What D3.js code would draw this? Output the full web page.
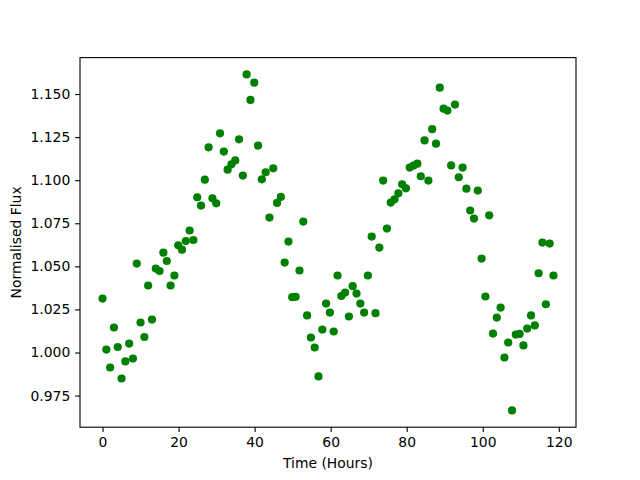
<!DOCTYPE html>
<html>
<head>
<meta charset="utf-8">
<script src="https://cdn.jsdelivr.net/npm/d3@7"></script>
<style>
html, body { margin: 0; padding: 0; background: #fff; }
svg { display: block; }
text { font-family: "DejaVu Sans", sans-serif; }
</style>
</head>
<body>
<svg id="chart" width="640" height="480"></svg>
<script>
const times = [0,1.0,2.0,3.0,4.0,5.0,6.0,7.0,8.0,9.0,10.0,11.0,12.0,13.0,14.0,15.0,16.0,16.9,17.9,18.9,
19.9,20.9,21.9,22.9,23.9,24.9,25.9,26.9,27.9,28.9,29.9,30.9,31.9,32.9,33.9,34.9,35.9,36.9,37.9,38.9,
39.9,40.9,41.9,42.9,43.9,44.9,45.9,46.9,47.9,48.9,49.9,50.8,51.8,52.8,53.8,54.8,55.8,56.8,57.8,58.8,
59.8,60.8,61.8,62.8,63.8,64.8,65.8,66.8,67.8,68.8,69.8,70.8,71.8,72.8,73.8,74.8,75.8,76.8,77.8,78.8,
79.8,80.8,81.8,82.8,83.7,84.7,85.7,86.7,87.7,88.7,89.7,90.7,91.7,92.7,93.7,94.7,95.7,96.7,97.7,98.7,
99.7,100.7,101.7,102.7,103.7,104.7,105.7,106.7,107.7,108.7,109.7,110.7,111.7,112.7,113.7,114.7,115.7,116.6,117.6,118.6];

const flux = [1.0313,1.0017,0.9913,1.0145,1.0032,0.9849,0.9948,1.0052,0.9965,1.0516,
1.0174,1.0090,1.0389,1.0191,1.0487,1.0473,1.0580,1.0531,1.0389,1.0447,
1.0622,1.0597,1.0647,1.0708,1.0653,1.0901,1.0853,1.1003,1.1191,1.0895,
1.0866,1.1272,1.1166,1.1061,1.1092,1.1115,1.1237,1.1027,1.1614,1.1466,
1.1566,1.1201,1.1005,1.1046,1.0783,1.1069,1.0868,1.0903,1.0522,1.0644,
1.0321,1.0323,1.0476,1.0760,1.0215,1.0087,1.0029,0.9861,1.0133,1.0284,
1.0232,1.0122,1.0447,1.0328,1.0348,1.0209,1.0385,1.0342,1.0284,1.0232,
1.0447,1.0673,1.0228,1.0609,1.0998,1.0719,1.0870,1.0889,1.0924,1.0976,
1.0953,1.1073,1.1085,1.1096,1.1023,1.1231,1.0998,1.1296,1.1212,1.1537,
1.1415,1.1404,1.1086,1.1439,1.1017,1.1073,1.0951,1.0824,1.0777,1.0940,
1.0545,1.0325,1.0796,1.0110,1.0203,1.0261,0.9971,1.0058,0.9664,1.0104,
1.0108,1.0041,1.0139,1.0215,1.0157,1.0460,1.0638,1.0280,1.0632,1.0447];

const xTicks = [0,20,40,60,80,100,120];
const yTicks = [0.975,1.000,1.025,1.050,1.075,1.100,1.125,1.150];
const xLabel = "Time (Hours)";
const yLabel = "Normalised Flux";

const svg = d3.select("#chart");
const mLeft = 80, mRight = 576, mTop = 57.6, mBottom = 427.2;

function padded(ext) {
  const r = ext[1] - ext[0];
  return [ext[0] - 0.05 * r, ext[1] + 0.05 * r];
}
const x = d3.scaleLinear().domain(padded(d3.extent(times))).range([mLeft, mRight]);
const y = d3.scaleLinear().domain(padded(d3.extent(flux))).range([mBottom, mTop]);

const data = times.map((t, i) => ({t: t, f: flux[i]}));

svg.append("g").selectAll("circle").data(data).enter().append("circle")
  .attr("cx", d => x(d.t)).attr("cy", d => y(d.f)).attr("r", 4.1)
  .attr("fill", "#008000");

const xAxis = svg.append("g").attr("transform", `translate(0,${mBottom})`)
  .call(d3.axisBottom(x).tickValues(xTicks).tickSize(4.9).tickPadding(4.8).tickFormat(d3.format("d")));
const yAxis = svg.append("g").attr("transform", `translate(${mLeft},0)`)
  .call(d3.axisLeft(y).tickValues(yTicks).tickSize(4.9).tickPadding(4.8).tickFormat(d3.format(".3f")));

[xAxis, yAxis].forEach(g => {
  g.select(".domain").remove();
  g.selectAll(".tick line").attr("stroke", "#000").attr("stroke-width", 1.1);
  g.selectAll(".tick text").attr("fill", "#000").style("font-size", "13.9px")
    .style("font-family", "'DejaVu Sans', sans-serif");
});

svg.append("rect").attr("x", mLeft).attr("y", mTop).attr("width", mRight - mLeft).attr("height", mBottom - mTop)
  .attr("fill", "none").attr("stroke", "#000").attr("stroke-width", 1.1);

svg.append("text").attr("x", (mLeft + mRight) / 2).attr("y", 468)
  .attr("text-anchor", "middle").style("font-size", "13.9px").text(xLabel);

svg.append("text").attr("transform", `translate(21,${(mTop + mBottom) / 2}) rotate(-90)`)
  .attr("text-anchor", "middle").style("font-size", "13.9px").text(yLabel);
</script>
</body>
</html>
